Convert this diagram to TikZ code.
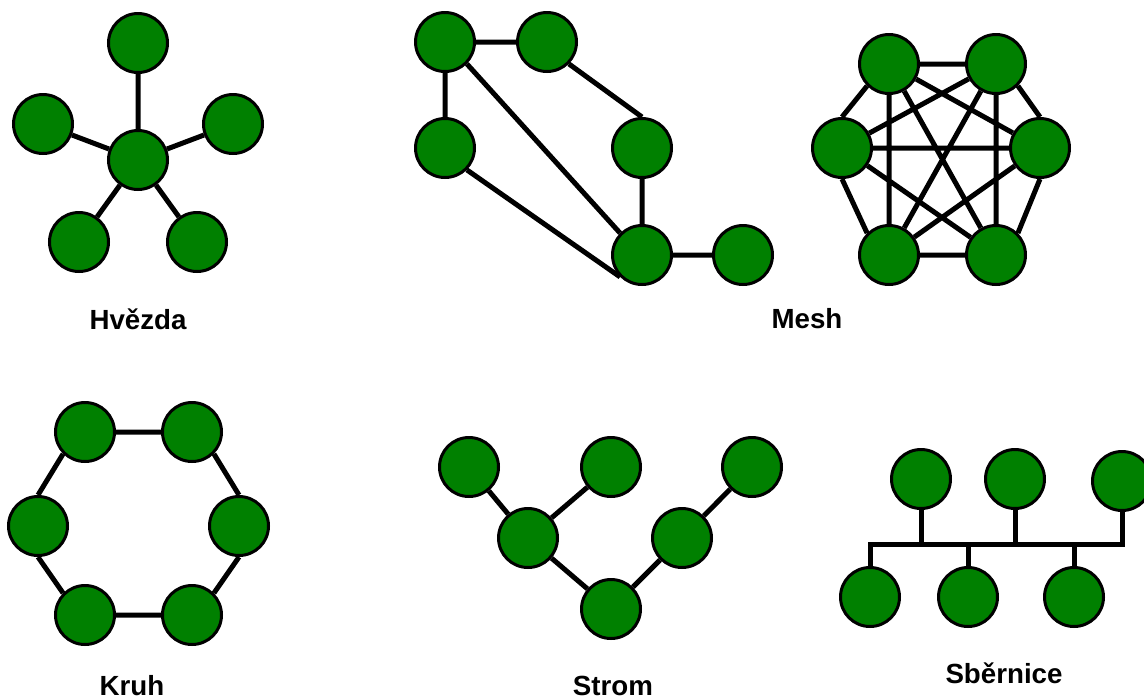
\documentclass[tikz,border=0pt]{standalone}
\usepackage{fontspec}
\setmainfont{Liberation Sans}
\usetikzlibrary{backgrounds}
\definecolor{nodegreen}{RGB}{0,128,0}
\begin{document}
\begin{tikzpicture}[x=1pt, y=-1pt,
    pc/.style={circle, draw=black, line width=3pt, fill=nodegreen, minimum size=59pt, inner sep=0pt},
    link/.style={line width=5pt},
    title/.style={anchor=base, font=\bfseries\fontsize{27.7}{30}\selectfont}]
    \useasboundingbox (0,0) rectangle (1144,697);

    % Hvezda
    \node[pc] (h0) at (138,160) {};
    \node[pc] (h1) at (138,43) {};
    \node[pc] (h2) at (43,124) {};
    \node[pc] (h3) at (233,124) {};
    \node[pc] (h4) at (79,242) {};
    \node[pc] (h5) at (197,242) {};
    \node[title] (lblHvezda) at (138,329) {Hvězda};

    % Mesh, cast vlevo
    \node[pc] (ma) at (445,42) {};
    \node[pc] (mb) at (547,42) {};
    \node[pc] (mc) at (445,148) {};
    \node[pc] (md) at (642,148) {};
    \node[pc] (me) at (642,255) {};
    \node[pc] (mf) at (743,255) {};
    % Mesh, plna
    \node[pc] (ktl) at (889,64) {};
    \node[pc] (ktr) at (996,64) {};
    \node[pc] (kl) at (842,148) {};
    \node[pc] (kr) at (1040,148) {};
    \node[pc] (kbl) at (889,255) {};
    \node[pc] (kbr) at (996,255) {};
    \node[title] (lblMesh) at (807,328) {Mesh};

    % Kruh
    \node[pc] (rtl) at (85,432) {};
    \node[pc] (rtr) at (192,432) {};
    \node[pc] (rl) at (38,526) {};
    \node[pc] (rr) at (239,526) {};
    \node[pc] (rbl) at (85,615) {};
    \node[pc] (rbr) at (192,615) {};
    \node[title] (lblKruh) at (132,695) {Kruh};

    % Strom
    \node[pc] (s1) at (469,467) {};
    \node[pc] (s2) at (611,467) {};
    \node[pc] (s3) at (752,467) {};
    \node[pc] (s4) at (528,538) {};
    \node[pc] (s5) at (682,538) {};
    \node[pc] (s6) at (611,609) {};
    \node[title] (lblStrom) at (613,695) {Strom};

    % Sbernice
    \node[pc] (b1) at (921,479) {};
    \node[pc] (b2) at (1015,479) {};
    \node[pc] (b3) at (1122,481) {};
    \node[pc] (b4) at (870,597) {};
    \node[pc] (b5) at (968,597) {};
    \node[pc] (b6) at (1074,597) {};
    \coordinate (busL) at (870,544);
    \coordinate (busR) at (1122,544);
    \node[title] (lblSbernice) at (1004,683) {Sběrnice};

    \begin{scope}[on background layer]
        \draw[link] (h0) -- (h1) (h0) -- (h2) (h0) -- (h3) (h0) -- (h4) (h0) -- (h5);

        \draw[link] (ma) -- (mb) (ma) -- (mc) (ma.south east) -- (me.north west)
            (mc.south east) -- (me.south west) (mb.south east) -- (md.north)
            (md) -- (me) (me) -- (mf);

        \draw[link] (ktl) -- (ktr) (kbl) -- (kbr) (kl) -- (kr)
            (ktl) -- (kbl) (ktr) -- (kbr)
            (kl.north) -- (ktl.south west) (ktr.south east) -- (kr.north)
            (kl.south) -- (kbl.north west) (kr.south) -- (kbr.north east)
            (ktl) -- (kr) (ktl) -- (kbr) (ktr) -- (kl) (ktr) -- (kbl)
            (kl) -- (kbr) (kr) -- (kbl);

        \draw[link] (rtl) -- (rtr) (rbl) -- (rbr)
            (rl.north) -- (rtl.south west) (rtr.south east) -- (rr.north)
            (rr.south) -- (rbr.north east) (rbl.north west) -- (rl.south);

        \draw[link] (s1) -- (s4) (s2) -- (s4) (s4) -- (s6) (s6) -- (s5) (s5) -- (s3);

        \draw[link] (b4) -- (busL) -- (busR) -- (b3);
        \draw[link] (b1) -- (b1 |- busL) (b2) -- (b2 |- busL)
            (b5) -- (b5 |- busL) (b6) -- (b6 |- busL);
    \end{scope}
\end{tikzpicture}
\end{document}
